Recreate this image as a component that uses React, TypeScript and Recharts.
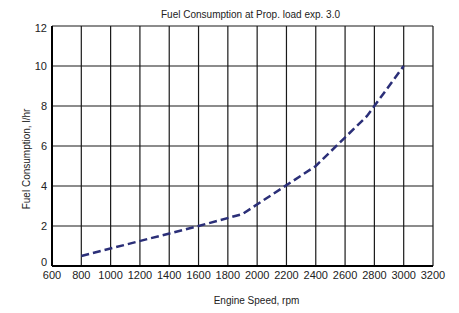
import React from 'react';
import { LineChart, Line, XAxis, YAxis, CartesianGrid } from 'recharts';

const speeds = [800, 1600, 1900, 2400, 2750, 3000];
const consumption = [0.5, 2.0, 2.6, 5.0, 7.5, 10.0];
const xTicks = [600, 800, 1000, 1200, 1400, 1600, 1800, 2000, 2200, 2400, 2600, 2800, 3000, 3200];
const yTicks = [0, 2, 4, 6, 8, 10, 12];

const data = speeds.map((s, i) => ({ rpm: s, fuel: consumption[i] }));

const font = '"Liberation Sans", Arial, sans-serif';

const YTick = (props: any) => {
  const { x, y, payload } = props;
  const v = payload.value;
  const shift = v === 0 ? -4 : v === 12 ? 2 : 0;
  return (
    <text x={x} y={y + shift} dy="0.355em" textAnchor="end" fill="#222" fontSize={11} fontFamily={font}>
      {v}
    </text>
  );
};

export default function App() {
  return (
    <div style={{ position: 'absolute', left: 0, top: 0, width: 459, height: 313, background: '#fff', fontFamily: font }}>
      <div style={{ position: 'absolute', left: 0, top: 9, width: 459, textAlign: 'center', fontSize: 10, color: '#222', paddingLeft: 42, boxSizing: 'border-box' }}>
        Fuel Consumption at Prop. load exp. 3.0
      </div>
      <LineChart width={459} height={313} data={data} margin={{ top: 26, right: 26, left: 0, bottom: 0 }}>
        <CartesianGrid stroke="#1a1a1a" strokeWidth={1.2} />
        <XAxis
          xAxisId="top"
          orientation="top"
          dataKey="rpm"
          type="number"
          domain={[600, 3200]}
          ticks={xTicks}
          height={0}
          tick={false}
          tickLine={false}
          axisLine={{ stroke: '#000', strokeWidth: 2 }}
        />
        <XAxis
          dataKey="rpm"
          type="number"
          domain={[600, 3200]}
          ticks={xTicks}
          interval={0}
          height={47}
          tickLine={false}
          tickSize={0}
          tickMargin={5}
          axisLine={{ stroke: '#000', strokeWidth: 2 }}
          tick={{ fill: '#222', fontSize: 11, fontFamily: font }}
          label={{ value: 'Engine Speed, rpm', position: 'center', dx: 14, dy: 11, fill: '#222', fontSize: 10, fontFamily: font }}
        />
        <YAxis
          type="number"
          domain={[0, 12]}
          ticks={yTicks}
          interval={0}
          width={52}
          tickLine={false}
          tickSize={0}
          tickMargin={5}
          axisLine={{ stroke: '#000', strokeWidth: 2 }}
          tick={<YTick />}
          label={{ value: 'Fuel Consumption, l/hr', angle: -90, position: 'center', dx: 0, dy: 13, fill: '#222', fontSize: 10, fontFamily: font }}
        />
        <Line
          dataKey="fuel"
          type="linear"
          stroke="#2b2f78"
          strokeWidth={2.5}
          strokeDasharray="8 4"
          dot={false}
          isAnimationActive={false}
        />
      </LineChart>
    </div>
  );
}
